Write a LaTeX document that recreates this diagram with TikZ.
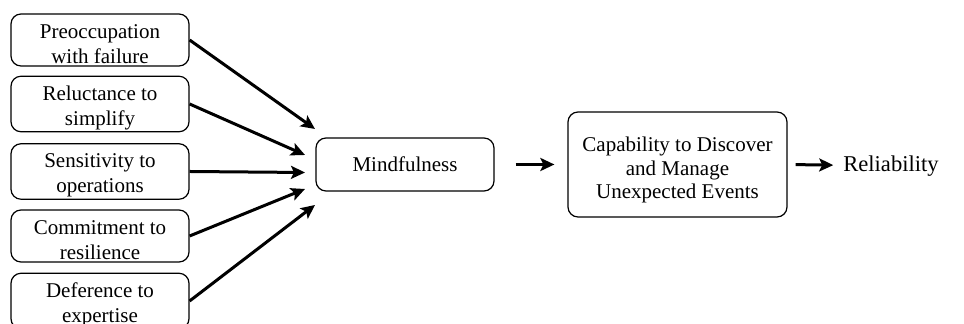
\documentclass[tikz,border=0pt]{standalone}
\usepackage{fontspec}
\setmainfont{Liberation Serif}
\usetikzlibrary{arrows.meta}

\begin{document}
\begin{tikzpicture}[x=0.5pt, y=-0.5pt, font=\fontsize{10.5}{12.5}\selectfont,
  box/.style={draw, rounded corners=5pt, line width=0.6pt, align=center, inner sep=1pt},
  factor/.style={box, minimum width=89pt, minimum height=26pt, text height=23.5pt},
  arr/.style={-{Stealth[length=7pt, width=6.5pt, inset=1.5pt]}, line width=1.5pt}]
\useasboundingbox (0,0) rectangle (964,324);
\node[factor] (p1) at (100,40) {Preoccupation\\with failure};
\node[factor] (p2) at (100,104) {Reluctance to\\simplify};
\node[factor] (p3) at (100,171.5) {Sensitivity to\\operations};
\node[factor] (p4) at (100,236) {Commitment to\\resilience};
\node[factor] (p5) at (100,301) {Deference to\\expertise};
\node[box, minimum width=89pt, minimum height=26.5pt] (mind) at (405,164.5) {Mindfulness};
\node[box, minimum width=109.5pt, minimum height=52.5pt, text height=36.5pt, font=\fontsize{10.5}{11.8}\selectfont] (cap) at (677.5,164.5) {Capability to Discover\\and Manage\\Unexpected Events};
\node[font=\fontsize{11.3}{13}\selectfont] (rel) at (891,166) {Reliability};
\coordinate (t1) at (315,129);
\coordinate (t2) at (305,155);
\coordinate (t3) at (305,172.5);
\coordinate (t4) at (305,189);
\coordinate (t5) at (315,205);
\path [arr] (p1.east) edge (t1);
\path [arr] (p2.east) edge (t2);
\path [arr] (p3.east) edge (t3);
\path [arr] (p4.east) edge (t4);
\path [arr] (p5.east) edge (t5);
\path [arr, shorten <=10.5pt, shorten >=6.5pt] (mind) edge (cap);
\path [arr, shorten <=4pt, shorten >=1.5pt] (cap.east) edge (rel);
\end{tikzpicture}
\end{document}
